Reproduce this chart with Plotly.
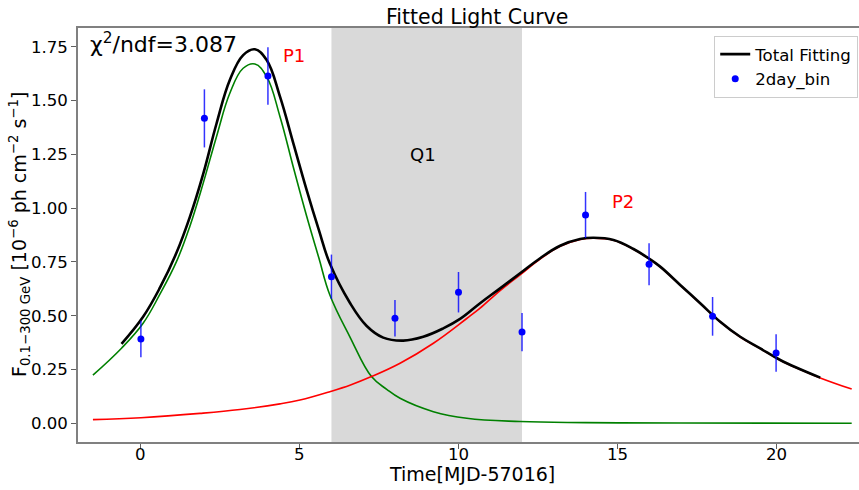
import plotly.graph_objects as go

# 2-day binned flux points (10^-6 ph cm^-2 s^-1)
bin_time = [0, 2, 4, 6, 8, 10, 12, 14, 16, 18, 20]
bin_flux = [0.392, 1.417, 1.614, 0.681, 0.488, 0.609, 0.424, 0.968, 0.739, 0.497, 0.327]
bin_err = [0.085, 0.135, 0.134, 0.103, 0.085, 0.094, 0.089, 0.107, 0.098, 0.090, 0.087]

# First flare component (P1)
p1_time = [-1.51, -0.61, 0.07, 0.60, 1.12, 1.54, 1.96, 2.38, 2.80, 3.22, 3.59, 3.96, 4.38,
           4.80, 5.22, 5.60, 5.95, 6.58, 7.26, 7.74, 8.16, 9.21, 10.26, 11.94,
           14.0, 17.0, 22.38]
p1_flux = [0.224, 0.349, 0.465, 0.600, 0.751, 0.915, 1.115, 1.332, 1.534, 1.650, 1.670, 1.611, 1.425,
           1.190, 0.962, 0.770, 0.596, 0.402, 0.217, 0.158, 0.116, 0.054, 0.023, 0.008,
           0.003, 0.001, 0.000]

# Second flare component (P2)
p2_time = [-1.51, 0.0, 1.86, 3.12, 4.38, 5.01, 5.95, 6.60, 7.26, 8.16, 9.21, 10.26, 10.68,
           11.31, 11.94, 12.57, 13.20, 13.83, 14.25, 14.88, 15.51, 15.98, 16.35, 16.98,
           17.61, 18.24, 18.87, 19.50, 20.13, 20.76, 21.39, 22.38]
p2_flux = [0.017, 0.026, 0.046, 0.064, 0.090, 0.108, 0.147, 0.178, 0.217, 0.279, 0.372, 0.487, 0.535,
           0.617, 0.690, 0.763, 0.822, 0.854, 0.860, 0.851, 0.809, 0.766, 0.727, 0.642,
           0.557, 0.471, 0.401, 0.347, 0.293, 0.250, 0.211, 0.159]

# Total fit (P1 + P2)
tot_time = [-0.61, 0.07, 0.60, 1.12, 1.54, 1.96, 2.38, 2.80, 3.22, 3.59, 3.96, 4.38, 4.80,
            5.22, 5.60, 5.95, 6.58, 7.11, 7.63, 8.26, 8.89, 9.52, 10.05, 10.68, 11.31,
            11.94, 12.57, 13.20, 13.83, 14.25, 14.88, 15.51, 15.98, 16.35, 16.98, 17.61,
            18.24, 18.87, 19.50, 20.13, 20.76, 21.39]
tot_flux = [0.369, 0.495, 0.630, 0.792, 0.958, 1.158, 1.392, 1.595, 1.711, 1.738, 1.688, 1.518, 1.301,
            1.084, 0.900, 0.742, 0.560, 0.452, 0.398, 0.384, 0.402, 0.441, 0.485, 0.558, 0.627,
            0.697, 0.767, 0.825, 0.856, 0.862, 0.852, 0.810, 0.767, 0.728, 0.643, 0.558,
            0.472, 0.402, 0.348, 0.294, 0.251, 0.212]

quiet_start, quiet_end = 6, 12
x_ticks = [0, 5, 10, 15, 20]
y_ticks = [0.00, 0.25, 0.50, 0.75, 1.00, 1.25, 1.50, 1.75]

FONT = "DejaVu Sans"
SMOOTH = 1.15

fig = go.Figure()

fig.add_shape(type="rect", xref="x", yref="paper", x0=quiet_start, x1=quiet_end,
              y0=0, y1=1, fillcolor="#d9d9d9", line_width=0, layer="below")

fig.add_trace(go.Scatter(x=p1_time, y=p1_flux, mode="lines",
                         line=dict(color="green", width=1.6, shape="spline", smoothing=SMOOTH),
                         showlegend=False, hoverinfo="skip"))
fig.add_trace(go.Scatter(x=p2_time, y=p2_flux, mode="lines",
                         line=dict(color="red", width=1.6, shape="spline", smoothing=SMOOTH),
                         showlegend=False, hoverinfo="skip"))
fig.add_trace(go.Scatter(x=tot_time, y=tot_flux, mode="lines", name="Total Fitting",
                         line=dict(color="black", width=2.6, shape="spline", smoothing=SMOOTH)))
fig.add_trace(go.Scatter(x=bin_time, y=bin_flux, mode="markers", name="2day_bin",
                         marker=dict(color="blue", size=7),
                         error_y=dict(type="data", array=bin_err, color="rgba(0,0,255,0.8)",
                                      thickness=1.5, width=0)))

fig.add_annotation(x=4.82, y=1.711, xref="x", yref="y", text="P1", showarrow=False,
                   font=dict(family=FONT, size=18, color="red"))
fig.add_annotation(x=15.18, y=1.033, xref="x", yref="y", text="P2", showarrow=False,
                   font=dict(family=FONT, size=18, color="red"))
fig.add_annotation(x=8.88, y=1.247, xref="x", yref="y", text="Q1", showarrow=False,
                   font=dict(family=FONT, size=18, color="black"))
fig.add_annotation(x=-1.67, y=1.767, xref="x", yref="y", xanchor="left", yanchor="middle",
                   text="χ<sup>2</sup>/ndf=3.087",
                   showarrow=False, font=dict(family=FONT, size=22, color="black"))

# x tick labels sit closer to the axis than Plotly's default placement
for t in x_ticks:
    fig.add_annotation(x=t, y=-0.0314, xref="x", yref="paper", xanchor="center", yanchor="middle",
                       text=str(t), showarrow=False,
                       font=dict(family=FONT, size=16.6, color="black"))

fig.add_annotation(x=0.5045, y=-0.0773, xref="paper", yref="paper", xanchor="center", yanchor="middle",
                   text="Time[MJD-57016]",
                   showarrow=False, font=dict(family=FONT, size=19, color="black"))
fig.add_annotation(x=-0.0755, y=0.5, xref="paper", yref="paper", xanchor="center", yanchor="middle",
                   textangle=-90,
                   text="F<sub>0.1\u2212300 GeV</sub> [10<sup>\u22126</sup> ph cm<sup>\u22122</sup> s<sup>\u22121</sup>]",
                   showarrow=False, font=dict(family=FONT, size=19, color="black"))

fig.update_layout(
    width=859, height=490,
    margin=dict(l=78, r=0, t=28, b=48),
    paper_bgcolor="white", plot_bgcolor="white",
    font=dict(family=FONT, size=16.6, color="black"),
    title=dict(text="Fitted Light Curve", x=0.5555, xanchor="center", y=0.965, yanchor="middle",
               font=dict(family=FONT, size=20.5, color="black")),
    legend=dict(x=0.999, xanchor="right", y=0.981, yanchor="top",
                bgcolor="white", bordercolor="#cccccc", borderwidth=1,
                font=dict(family=FONT, size=16.6, color="black"), tracegroupgap=0),
    showlegend=True,
)
fig.update_xaxes(range=[-1.98, 22.61], tickvals=x_ticks, showticklabels=False,
                 showgrid=False, zeroline=False,
                 showline=True, linecolor="#808080", linewidth=1.5, mirror=True,
                 ticks="outside", ticklen=5, tickwidth=1.3, tickcolor="#606060")
fig.update_yaxes(range=[-0.087, 1.837], tickvals=y_ticks, tickformat=".2f", showgrid=False, zeroline=False,
                 showline=True, linecolor="#808080", linewidth=1.5,
                 ticks="outside", ticklen=5, tickwidth=1.3, tickcolor="#606060",
                 tickfont=dict(family=FONT, size=16.6, color="black"))

fig.write_html("out.html")
